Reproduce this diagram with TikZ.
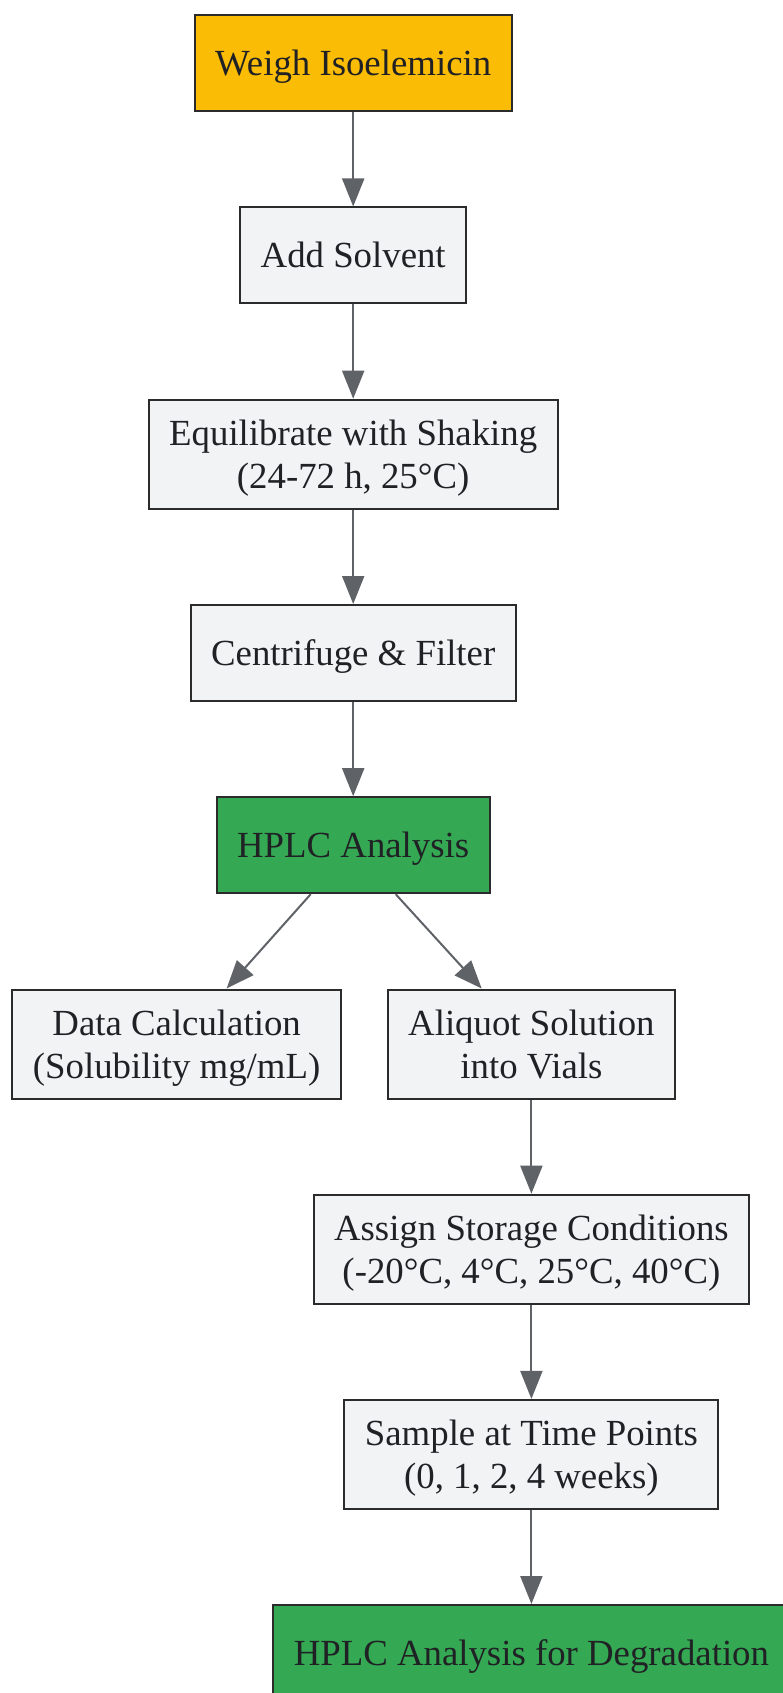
\documentclass[tikz,border=0pt]{standalone}
\usepackage{fontspec}
\setmainfont{Liberation Serif}
\usetikzlibrary{arrows.meta}
\definecolor{yellowfill}{HTML}{FBBC05}
\definecolor{greenfill}{HTML}{34A853}
\definecolor{greyfill}{HTML}{F1F3F4}
\definecolor{boxline}{HTML}{2B2B2B}
\definecolor{arrowline}{HTML}{5F6368}
\definecolor{textcol}{HTML}{202124}

\begin{document}
\begin{tikzpicture}[x=1pt, y=-1pt,
	stepbox/.style={rectangle, draw=boxline, line width=2pt, fill=greyfill, text=textcol,
		align=center, inner xsep=20.5pt, inner ysep=10pt, minimum height=96pt,
		text height=25pt, text depth=-0.4pt,
		font=\fontsize{36.8}{43}\selectfont},
	twoline/.style={minimum height=109pt, text height=68pt, text depth=-1pt},
	arrow/.style={draw=arrowline, line width=2pt, -{Triangle[length=28pt, width=22pt]}}]
	\fill[white] (0,0) rectangle (782,1693);
	\useasboundingbox (0,0) rectangle (782,1693);
	% Nodes
	\node[stepbox, fill=yellowfill] (weigh) at (353.2,63.2) {Weigh Isoelemicin};
	\node[stepbox] (add_solv) at (353.2,255.5) {Add Solvent};
	\node[stepbox, twoline] (equil) at (353.2,454.2) {Equilibrate with Shaking\\(24-72 h, 25°C)};
	\node[stepbox] (centri) at (353.2,653) {Centrifuge \& Filter};
	\node[stepbox, fill=greenfill] (hplc) at (353.2,845.2) {HPLC Analysis};
	\node[stepbox, twoline] (data_calc) at (176.6,1044) {Data Calculation\\(Solubility mg/mL)};
	\node[stepbox, twoline] (aliquot) at (531.4,1044) {Aliquot Solution\\into Vials};
	\node[stepbox, twoline] (assign) at (531.4,1249.2) {Assign Storage Conditions\\(-20°C, 4°C, 25°C, 40°C)};
	\node[stepbox, twoline] (sample) at (531.4,1454.4) {Sample at Time Points\\(0, 1, 2, 4 weeks)};
	\node[stepbox, fill=greenfill] (hplc_deg) at (531.4,1653) {HPLC Analysis for Degradation};
	% Edges
	\draw[arrow] (weigh) -- (add_solv);
	\draw[arrow] (add_solv) -- (equil);
	\draw[arrow] (equil) -- (centri);
	\draw[arrow] (centri) -- (hplc);
	\draw[arrow] ([xshift=-42.5pt]hplc.south) -- ([xshift=50pt]data_calc.north);
	\draw[arrow] ([xshift=42.5pt]hplc.south) -- ([xshift=-49.7pt]aliquot.north);
	\draw[arrow] (aliquot) -- (assign);
	\draw[arrow] (assign) -- (sample);
	\draw[arrow] (sample) -- (hplc_deg);
\end{tikzpicture}
\end{document}
